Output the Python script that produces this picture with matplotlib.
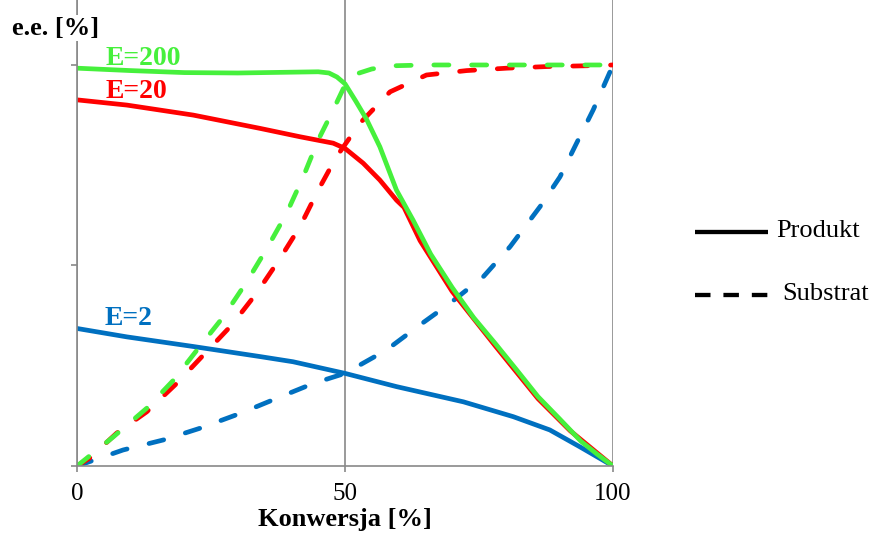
import matplotlib.pyplot as plt
from matplotlib.lines import Line2D

plt.rcParams['font.family'] = ['Liberation Serif', 'DejaVu Serif']

# E=200
x_p200 = [0, 10, 20, 30, 40, 45, 47, 48.5, 50, 52, 54, 56.5, 59.6, 62.7, 66, 70, 74, 78, 82, 86, 90, 94, 97, 100]
y_p200 = [99.2, 98.6, 98.1, 98.0, 98.2, 98.3, 98.0, 97.0, 95.3, 91.0, 86.5, 79.6, 68.8, 61.3, 52.8, 44.5, 37.0, 30.6, 24.0, 17.3, 11.8, 6.2, 3.0, 0]
x_s200 = [0, 6.8, 13, 18, 22.9, 27.3, 31.7, 35.4, 39.1, 42.2, 45, 47.8, 50, 52.2, 55, 59, 65, 75, 85, 100]
y_s200 = [0, 7.3, 14.4, 21.4, 29.8, 37.2, 46.0, 54.2, 63.0, 72.1, 81.3, 88.8, 95.0, 97.8, 99.0, 99.8, 100, 100, 100, 100]

# E=20
x_p20 = [0, 9.3, 21.7, 34.1, 41.6, 47.8, 50, 53.4, 56.5, 59.6, 61, 64, 70, 78, 86, 92, 100]
y_p20 = [91.3, 90.0, 87.5, 84.2, 82.1, 80.5, 79.2, 75.5, 71.3, 66.3, 64.5, 56.2, 43.5, 30.0, 16.8, 8.8, 0]
x_s20 = [0, 2.4, 7.4, 13, 18.6, 23.6, 28.9, 33.5, 37.9, 41.6, 45, 48.4, 52.8, 58.4, 65.2, 72.7, 80.2, 87.6, 95, 100]
y_s20 = [0, 2.0, 8.2, 13.5, 20.6, 27.7, 35.2, 43.1, 51.8, 59.7, 68.8, 77.1, 85.5, 93.3, 97.5, 98.6, 99.2, 99.6, 99.8, 100]

# E=2
x_p2 = [0, 9.3, 21.7, 34.1, 40.3, 50, 59.6, 72.1, 81.4, 88.2, 93.8, 100]
y_p2 = [34.3, 32.2, 29.8, 27.3, 26.0, 23.1, 19.8, 16.0, 12.3, 9.0, 4.8, 0]
x_s2 = [0, 8.6, 16.1, 22.9, 30.4, 37.3, 44.1, 50, 57.7, 64, 69.6, 75.8, 80.8, 86.4, 90.1, 93.2, 96.3, 100]
y_s2 = [0, 4.0, 6.5, 9.4, 13.1, 16.9, 20.6, 23.1, 28.9, 35.2, 40.6, 47.2, 54.7, 64.7, 72.1, 80.5, 88.8, 100]

xticks = [0, 50, 100]
yticks = [0, 50, 100]

green = '#46F03C'
red = '#FF0000'
blue = '#0070C0'
grey = '#898989'

fig = plt.figure(figsize=(8.74, 5.4), dpi=100)
ax = fig.add_axes([0.0881, 0.137, 0.6133, 0.863])

lw = 3.4
dash = (3.2, 4.8)
kw_s = dict(lw=lw, solid_capstyle='round', solid_joinstyle='round')
kw_d = dict(lw=lw, ls=(0, dash), dash_capstyle='round')

ax.plot(x_s2, y_s2, color=blue, **kw_d)
ax.plot(x_p2, y_p2, color=blue, **kw_s)
ax.plot(x_s20, y_s20, color=red, **kw_d)
ax.plot(x_p20, y_p20, color=red, **kw_s)
ax.plot(x_s200, y_s200, color=green, **kw_d)
ax.plot(x_p200, y_p200, color=green, **kw_s)

ax.set_xlim(0, 100)
ax.set_ylim(0, 116.2)
ax.set_xticks(xticks)
ax.set_yticks(yticks)
ax.set_yticklabels([])
ax.tick_params(axis='both', colors=grey, length=4.5, width=1.2, labelsize=18, labelcolor='black')
ax.tick_params(axis='x', pad=8)
ax.grid(axis='x', color=grey, lw=1.2)
for s in ['top', 'right']:
    ax.spines[s].set_visible(False)
for s in ['left', 'bottom']:
    ax.spines[s].set_color(grey)
    ax.spines[s].set_linewidth(1.2)
ax.set_axisbelow(True)
ax.set_xlabel('Konwersja [%]', fontsize=19, fontweight='bold', labelpad=2)

fig.text(12 / 874, 1 - 28 / 540, 'e.e. [%]', fontsize=19, fontweight='bold', va='center', ha='left',
         bbox=dict(facecolor='white', edgecolor='none', pad=1))

ax.text(5.4, 100, 'E=200', color=green, fontsize=20, fontweight='bold', va='baseline')
ax.text(5.4, 91.7, 'E=20', color=red, fontsize=20, fontweight='bold', va='baseline')
ax.text(5.2, 35.2, 'E=2', color=blue, fontsize=20, fontweight='bold', va='baseline')

# legend
fig.add_artist(Line2D([695 / 874, 768 / 874], [1 - 232 / 540] * 2, color='black', lw=3.1, solid_capstyle='butt'))
fig.add_artist(Line2D([695 / 874, 768 / 874], [1 - 295 / 540] * 2, color='black', lw=3.1,
                      ls=(0, (3.6, 3.0)), dash_capstyle='butt'))
fig.text(776 / 874, 1 - 231 / 540, 'Produkt', fontsize=19, va='center', ha='left')
fig.text(782 / 874, 1 - 294 / 540, 'Substrat', fontsize=19, va='center', ha='left')

fig.savefig('out.png', dpi=100)
